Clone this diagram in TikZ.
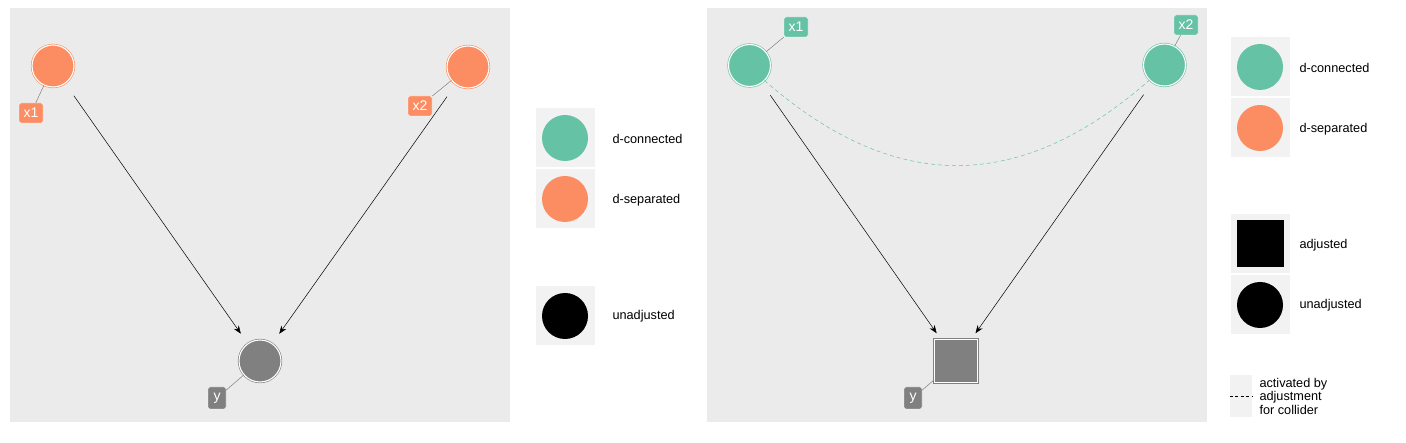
\documentclass[tikz,border=0pt]{standalone}
\usepackage{fontspec}
\setmainfont{Liberation Sans}
\usetikzlibrary{arrows.meta,calc}
\definecolor{dconn}{HTML}{66C2A5}
\definecolor{dsep}{HTML}{FC8D62}
\definecolor{unadj}{HTML}{808080}
\definecolor{panelbg}{HTML}{EBEBEB}
\definecolor{keybg}{HTML}{F2F2F2}
\tikzset{
  var/.style={circle,fill=#1,draw=#1,double=white,double distance=1.1pt,line width=0.6pt,minimum size=42pt,inner sep=0pt},
  adjvar/.style={rectangle,fill=#1,draw=#1,double=white,double distance=1.3pt,line width=1pt,minimum size=43pt,inner sep=0pt},
  lab/.style={rectangle,rounded corners=2pt,fill=#1,draw=white,line width=0.4pt,text=white,font=\fontsize{14}{14}\selectfont,minimum width=24pt,minimum height=20pt,inner sep=2pt},
  edge/.style={-{Stealth[length=8pt,width=6pt]},line width=0.5pt,shorten <=15pt,shorten >=12pt},
  seg/.style={draw=unadj,line width=0.5pt},
  keybox/.style={fill=keybg,minimum size=59pt,inner sep=0pt},
  keytext/.style={anchor=west,font=\fontsize{12.7}{14}\selectfont},
}
\begin{document}
\begin{tikzpicture}[x=1pt,y=-1pt]
\useasboundingbox (0,0) rectangle (1406,443);
% panels
\fill[panelbg] (10,8) rectangle (510,422);
\fill[panelbg] (707,8) rectangle (1207,422);
% left dag
\node[var=dsep] (lx1) at (53,66) {};
\node[var=dsep] (lx2) at (468,67) {};
\node[var=unadj] (ly) at (260,361) {};
\node[lab=dsep] (lx1lab) at (31,113) {x1};
\node[lab=dsep] (lx2lab) at (420,106) {x2};
\node[lab=unadj,minimum width=18pt,minimum height=22pt] (lylab) at (217,398) {y};
\draw[seg] (lx1lab) -- (lx1);
\draw[seg] (lx2lab) -- (lx2);
\draw[seg] (lylab) -- (ly);
\draw[edge] (lx1) -- (ly);
\draw[edge] (lx2) -- (ly);
% left legend
\node[keybox] (lkc) at (565,138) {};
\node[keybox] (lks) at (565,199) {};
\node[keybox] (lku) at (565,316) {};
\fill[dconn] (lkc) circle (23);
\fill[dsep] (lks) circle (23);
\fill[black] (lku) circle (23);
\node[keytext] at (609,139) {d-connected};
\node[keytext] at (609,200) {d-separated};
\node[keytext] at (609,316) {unadjusted};
% right dag
\node[var=dconn] (rx1) at (749.5,65.5) {};
\node[var=dconn] (rx2) at (1164.5,65) {};
\node[adjvar=unadj] (ry) at (956,361) {};
\node[lab=dconn] (rx1lab) at (796,27) {x1};
\node[lab=dconn] (rx2lab) at (1186,25) {x2};
\node[lab=unadj,minimum width=18pt,minimum height=22pt] (rylab) at (913,398) {y};
\draw[seg] (rx1lab) -- (rx1);
\draw[seg] (rx2lab) -- (rx2);
\draw[seg] (rylab) -- (ry);
\draw[edge,shorten >=7pt] (rx1) -- (ry);
\draw[edge,shorten >=7pt] (rx2) -- (ry);
\draw[dconn,dashed,dash pattern=on 4pt off 3pt,line width=0.5pt] (rx1.-45) .. controls (894,194) and (1020,194) .. (rx2.-135); % collider path
% right legend
\node[keybox] (rkc) at (1260,67) {};
\node[keybox] (rks) at (1260,128) {};
\node[keybox] (rka) at (1260,244) {};
\node[keybox] (rku) at (1260,305) {};
\fill[dconn] (rkc) circle (23);
\fill[dsep] (rks) circle (23);
\fill[black] ($(rka)+(-23.5,-23.5)$) rectangle ($(rka)+(23.5,23.5)$);
\fill[black] (rku) circle (23);
\node[keytext] at (1296,68) {d-connected};
\node[keytext] at (1296,129) {d-separated};
\node[keytext] at (1296,245) {adjusted};
\node[keytext] at (1296,305) {unadjusted};
\node[fill=keybg,minimum width=22pt,minimum height=42pt,inner sep=0pt] (rkl) at (1241,396) {};
\draw[dashed,dash pattern=on 3pt off 2.5pt,line width=0.5pt] (rkl.west) -- (rkl.east);
\node[keytext,align=left,font=\fontsize{12.7}{13.5}\selectfont] at (1256,396) {activated by\\adjustment\\for collider};
\end{tikzpicture}
\end{document}
